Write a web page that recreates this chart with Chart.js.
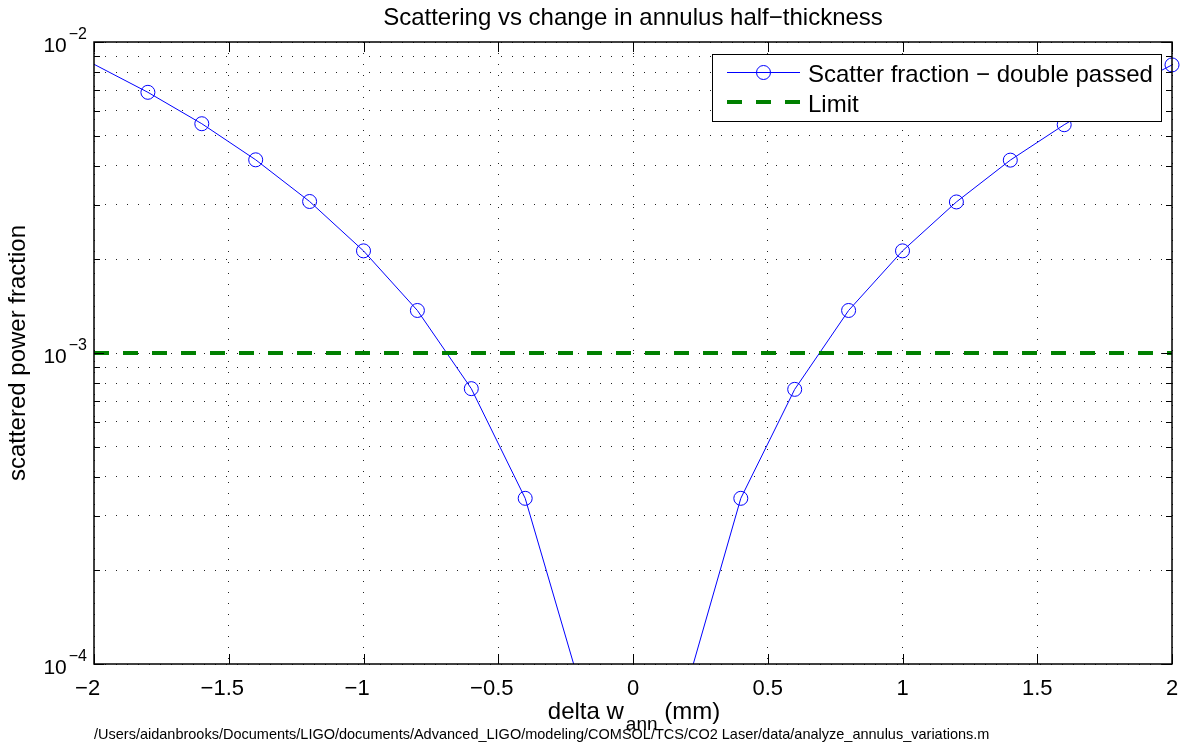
<!DOCTYPE html>
<html>
<head>
<meta charset="utf-8">
<title>Scattering vs change in annulus half-thickness</title>
<script src="https://cdn.jsdelivr.net/npm/chart.js@4.4.0/dist/chart.umd.min.js"></script>
<style>
  html, body { margin: 0; padding: 0; background: #fff; }
  #wrap { position: relative; width: 1187px; height: 746px; }
</style>
</head>
<body>
<div id="wrap"><canvas id="scatterChart"></canvas></div>
<script>
// change in annulus half-thickness (mm)
const deltaW = [-2.0, -1.8, -1.6, -1.4, -1.2, -1.0, -0.8, -0.6, -0.4, -0.2, 0.0,
                0.2, 0.4, 0.6, 0.8, 1.0, 1.2, 1.4, 1.6, 1.8, 2.0];
// scattered power fraction, double passed
const scatterFraction = [0.00848, 0.00689, 0.00546, 0.00418, 0.00307, 0.00213, 0.00137, 0.000768, 0.000341, 0.0000871, 0.000015,
                         0.0000848, 0.000341, 0.000764, 0.00137, 0.00213, 0.00306, 0.00417, 0.00542, 0.00686, 0.00844];
const limitLevel = 1e-3;

const xTicks = [-2, -1.5, -1, -0.5, 0, 0.5, 1, 1.5, 2];
const yDecades = [-4, -3, -2];
const yMantissas = [1, 2, 3, 4, 5, 6, 7, 8, 9];

const titleText = 'Scattering vs change in annulus half\u2212thickness';
const yLabelText = 'scattered power fraction';
const xLabelMain = 'delta w';
const xLabelSub = 'ann';
const xLabelUnit = ' (mm)';
const footerText = '/Users/aidanbrooks/Documents/LIGO/documents/Advanced_LIGO/modeling/COMSOL/TCS/CO2 Laser/data/analyze_annulus_variations.m';
const seriesLabels = ['Scatter fraction \u2212 double passed', 'Limit'];

// grid values: every mantissa inside each decade, plus the top decade
const yGrid = [];
for (let i = 0; i < yDecades.length - 1; i++) {
    yMantissas.forEach(m => yGrid.push(m * Math.pow(10, yDecades[i])));
}
yGrid.push(Math.pow(10, yDecades[yDecades.length - 1]));

const FONT = '"Liberation Sans", Arial, Helvetica, sans-serif';
const isDecade = v => Math.abs(Math.log10(v) - Math.round(Math.log10(v))) < 1e-9;

// box, inward tick marks, labels and legend drawn on top of the chart
const axesDecor = {
    id: 'axesDecor',
    afterDatasetsDraw(chart) {
        const { ctx, chartArea: a, scales: { x, y } } = chart;
        ctx.save();
        ctx.strokeStyle = '#000';
        ctx.lineWidth = 1;
        ctx.beginPath();
        xTicks.forEach(v => {
            const px = Math.round(x.getPixelForValue(v)) + 0.5;
            ctx.moveTo(px, a.bottom); ctx.lineTo(px, a.bottom - 10);
            ctx.moveTo(px, a.top); ctx.lineTo(px, a.top + 10);
        });
        yGrid.forEach(v => {
            const py = Math.round(y.getPixelForValue(v)) + 0.5;
            const len = isDecade(v) ? 10 : 6;
            ctx.moveTo(a.left, py); ctx.lineTo(a.left + len, py);
            ctx.moveTo(a.right, py); ctx.lineTo(a.right - len, py);
        });
        ctx.stroke();
        ctx.lineWidth = 1.5;
        ctx.strokeRect(a.left, a.top, a.right - a.left, a.bottom - a.top);
        ctx.restore();
    },
    afterDraw(chart) {
        const { ctx, chartArea: a, scales: { x, y } } = chart;
        const midX = (a.left + a.right) / 2;
        ctx.save();
        ctx.fillStyle = '#000';
        ctx.textBaseline = 'alphabetic';

        // title
        ctx.font = '24px ' + FONT;
        ctx.textAlign = 'center';
        ctx.fillText(titleText, midX, 25);

        // x tick labels, minus sign hangs left of the centred number
        ctx.font = '22px ' + FONT;
        xTicks.forEach(v => {
            const px = x.getPixelForValue(v);
            const body = String(Math.abs(v));
            const w = ctx.measureText(body).width;
            ctx.textAlign = 'left';
            ctx.fillText(body, px - w / 2, a.bottom + 31);
            if (v < 0) {
                ctx.textAlign = 'right';
                ctx.fillText('\u2212', px - w / 2, a.bottom + 31);
            }
        });

        // y tick labels 10^n
        yDecades.forEach(e => {
            const py = y.getPixelForValue(Math.pow(10, e));
            ctx.textAlign = 'right';
            ctx.font = '16px ' + FONT;
            const exp = '\u2212' + Math.abs(e);
            const ew = ctx.measureText(exp).width;
            ctx.fillText(exp, a.left - 7, py - 3);
            ctx.font = '21px ' + FONT;
            ctx.fillText('10', a.left - 9 - ew, py + 10);
        });

        // x axis label with subscript
        ctx.textAlign = 'left';
        ctx.font = '24px ' + FONT;
        const w1 = ctx.measureText(xLabelMain).width;
        const w3 = ctx.measureText(xLabelUnit).width;
        ctx.font = '19px ' + FONT;
        const w2 = ctx.measureText(xLabelSub).width;
        let lx = midX - (w1 + w2 + w3) / 2;
        ctx.font = '24px ' + FONT;
        ctx.fillText(xLabelMain, lx, 719);
        ctx.font = '19px ' + FONT;
        ctx.fillText(xLabelSub, lx + w1 + 2, 730);
        ctx.font = '24px ' + FONT;
        ctx.fillText(xLabelUnit, lx + w1 + w2 + 2, 719);

        // y axis label
        ctx.save();
        ctx.translate(25, (a.top + a.bottom) / 2);
        ctx.rotate(-Math.PI / 2);
        ctx.textAlign = 'center';
        ctx.fillText(yLabelText, 0, 0);
        ctx.restore();

        // file path footer
        ctx.font = '14.5px ' + FONT;
        ctx.textAlign = 'left';
        ctx.fillText(footerText, a.left, 739);

        // legend
        const lg = { x: 712.5, y: 54.5, w: 449, h: 67 };
        ctx.fillStyle = '#fff';
        ctx.fillRect(lg.x, lg.y, lg.w, lg.h);
        ctx.strokeStyle = '#000';
        ctx.lineWidth = 1;
        ctx.strokeRect(lg.x, lg.y, lg.w, lg.h);

        const s0 = chart.data.datasets[1];
        const s1 = chart.data.datasets[0];
        ctx.strokeStyle = s0.borderColor;
        ctx.lineWidth = s0.borderWidth;
        ctx.beginPath();
        ctx.moveTo(727, 72.5); ctx.lineTo(800, 72.5);
        ctx.stroke();
        ctx.beginPath();
        ctx.arc(763.5, 72.5, 7, 0, Math.PI * 2);
        ctx.stroke();

        ctx.strokeStyle = s1.borderColor;
        ctx.lineWidth = s1.borderWidth;
        ctx.setLineDash(s1.borderDash);
        ctx.beginPath();
        ctx.moveTo(727, 102); ctx.lineTo(800, 102);
        ctx.stroke();
        ctx.setLineDash([]);

        ctx.fillStyle = '#000';
        ctx.font = '24px ' + FONT;
        ctx.textAlign = 'left';
        ctx.fillText(seriesLabels[0], 808, 81.5);
        ctx.fillText(seriesLabels[1], 808, 111.5);
        ctx.restore();
    }
};

const ctx = document.getElementById('scatterChart');

new Chart(ctx, {
    type: 'line',
    data: {
        datasets: [{
            label: seriesLabels[1],
            data: [{ x: xTicks[0], y: limitLevel }, { x: xTicks[xTicks.length - 1], y: limitLevel }],
            borderColor: '#008000',
            borderWidth: 4,
            borderDash: [15, 14],
            pointRadius: 0,
            order: 0
        }, {
            label: seriesLabels[0],
            data: deltaW.map((v, i) => ({ x: v, y: scatterFraction[i] })),
            borderColor: '#0000ff',
            borderWidth: 1,
            pointStyle: 'circle',
            // first sample lies on the axis edge and gets no marker
            pointRadius: c => (c.dataIndex === 0 ? 0 : 7),
            pointBorderWidth: 1,
            pointBorderColor: '#0000ff',
            pointBackgroundColor: 'rgba(0,0,0,0)',
            tension: 0,
            clip: { left: 10, top: 10, right: 10, bottom: 0 },
            order: 1
        }]
    },
    options: {
        responsive: true,
        maintainAspectRatio: false,
        animation: false,
        events: [],
        layout: {
            padding: { left: 94, top: 42, right: 15, bottom: 82 }
        },
        plugins: {
            legend: { display: false },
            tooltip: { enabled: false },
            title: { display: false }
        },
        scales: {
            x: {
                type: 'linear',
                min: xTicks[0],
                max: xTicks[xTicks.length - 1],
                afterBuildTicks: axis => { axis.ticks = xTicks.map(v => ({ value: v })); },
                ticks: { display: false },
                grid: { color: '#222', lineWidth: 1, drawTicks: false },
                border: { display: false, dash: [1, 10] }
            },
            y: {
                type: 'logarithmic',
                min: yGrid[0],
                max: yGrid[yGrid.length - 1],
                afterBuildTicks: axis => { axis.ticks = yGrid.map(v => ({ value: v })); },
                ticks: { display: false },
                grid: { color: '#222', lineWidth: 1, drawTicks: false },
                border: { display: false, dash: [1, 10] }
            }
        }
    },
    plugins: [axesDecor]
});
</script>
</body>
</html>
